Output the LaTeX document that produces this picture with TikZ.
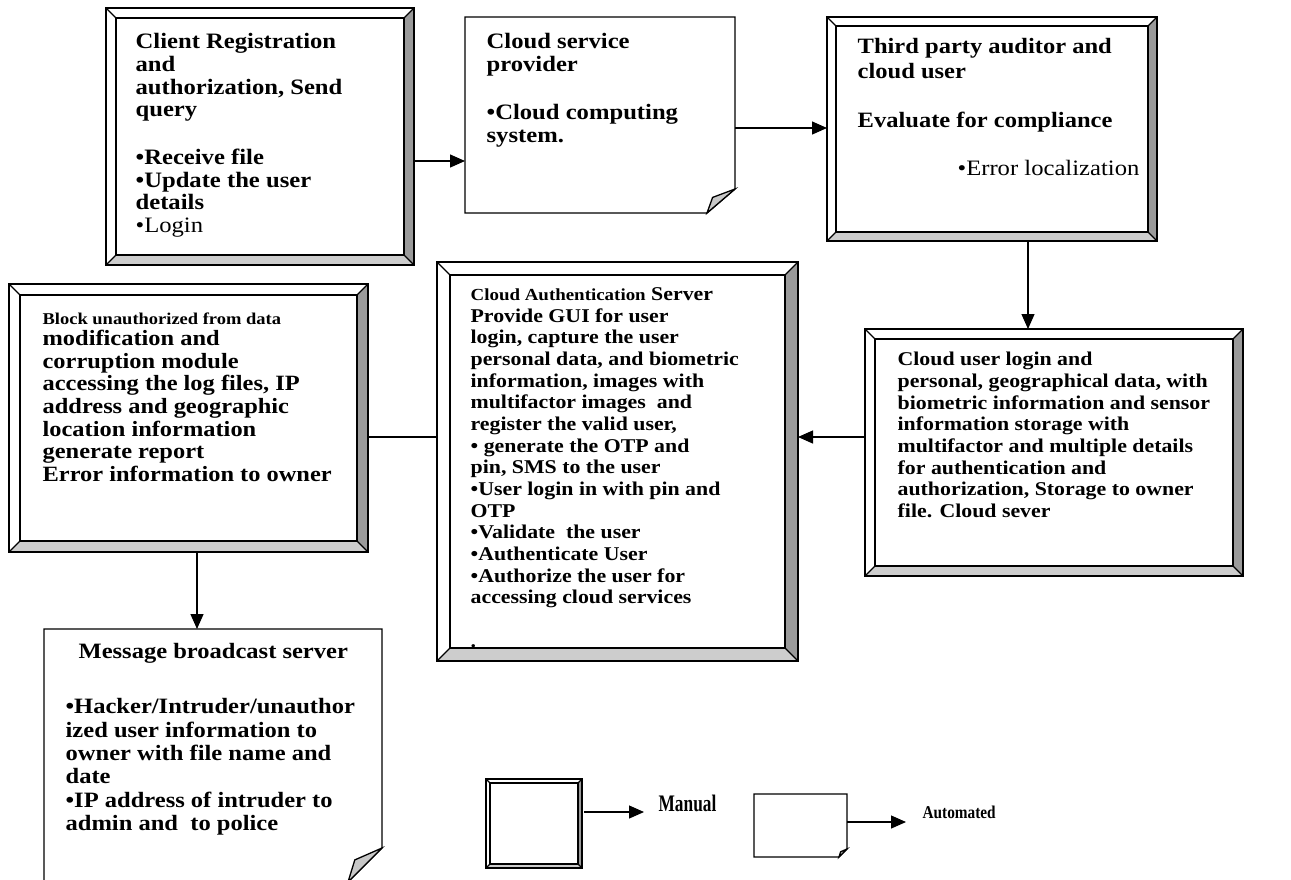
\documentclass[tikz,border=0pt]{standalone}
\usepackage{fontspec}
\setmainfont{Liberation Serif}[FakeStretch=1.12]
\newfontfamily\legendserif{Liberation Serif}
\usetikzlibrary{arrows.meta,calc,fit}
\definecolor{bevdark}{HTML}{9A9A9A}
\definecolor{bevlight}{HTML}{CDCDCD}
\definecolor{foldgray}{HTML}{C8C8C8}

% strut that fixes the height of a first text line
\newcommand\fl{\rule{0pt}{20pt}}
\newcommand\bul{•}

% raised frame with shaded right and bottom bevels
\newcommand\bevelframe[2]{%
  \fill[bevdark] (#1.north east) -- (#1.south east) -- ($(#1.south east)+(-#2,-#2)$) -- ($(#1.north east)+(-#2,#2)$) -- cycle;
  \fill[bevlight] (#1.south west) -- (#1.south east) -- ($(#1.south east)+(-#2,-#2)$) -- ($(#1.south west)+(#2,-#2)$) -- cycle;
  \draw (#1.north west) rectangle (#1.south east);
  \draw ($(#1.north west)+(#2,#2)$) rectangle ($(#1.south east)+(-#2,-#2)$);
  \draw (#1.north west) -- ($(#1.north west)+(#2,#2)$)
        (#1.north east) -- ($(#1.north east)+(-#2,#2)$)
        (#1.south east) -- ($(#1.south east)+(-#2,-#2)$)
        (#1.south west) -- ($(#1.south west)+(#2,-#2)$);
}

% sheet of paper with a folded lower right corner
\newcommand\notepaper[3]{%
  \draw[fill=white] (#1.north west) -- (#1.north east) -- ($(#1.south east)+(0,-#3)$)
     -- ($(#1.south east)+(-#2,0)$) -- (#1.south west) -- cycle;
  \draw[fill=foldgray] ($(#1.south east)+(0,-#3)$) -- ($(#1.south east)+(-0.8*#2,-0.65*#3)$)
     -- ($(#1.south east)+(-#2,0)$) -- cycle;
}

\begin{document}
\begin{tikzpicture}[x=1pt,y=-1pt,line width=1.3pt,
  frame/.style={inner sep=0pt,outer sep=0pt,draw=none},
  txt/.style={anchor=north west,inner sep=0pt,align=left},
  arr/.style={-{Triangle[length=15pt,width=13pt]},line width=1.3pt}]
\useasboundingbox (0,0) rectangle (1291,879);
\clip (0,0) rectangle (1291,879);

% ---- frames ----
\node[frame,fit={(106,8) (414,265)}] (b1) {};
\node[frame,fit={(465,17) (735,213)}] (b2) {};
\node[frame,fit={(827,17) (1157,241)}] (b3) {};
\node[frame,fit={(865,329) (1243,576)}] (b4) {};
\node[frame,fit={(437,262) (798,661)}] (b5) {};
\node[frame,fit={(9,284) (368,552)}] (b6) {};
\node[frame,fit={(44,629) (382,882)}] (b7) {};
\node[frame,fit={(486,779) (582,868)}] (lm) {};
\node[frame,fit={(754,794) (847,857)}] (la) {};

\bevelframe{b1}{10}
\notepaper{b2}{28}{24}
\bevelframe{b3}{9}
\bevelframe{b4}{10}
\bevelframe{b5}{13}
\bevelframe{b6}{11}
\notepaper{b7}{34}{34}
\bevelframe{lm}{4}
\notepaper{la}{8}{8}

% ---- texts ----
\node[txt,font=\fontsize{22}{22.7}\selectfont\bfseries] (t1) at (135,28)
  {\fl Client Registration\\ and\\ authorization, Send\\ query\\[25pt]
   \bul Receive file\\ \bul Update the user\\ details\\ {\mdseries\bul Login}};

\node[txt,font=\fontsize{22}{22.5}\selectfont\bfseries] (t2) at (486,28)
  {\fl Cloud service\\ provider\\[26pt] \bul Cloud computing\\ system.};

\node[txt,font=\fontsize{21.9}{25}\selectfont\bfseries] (t3) at (857,33)
  {\fl Third party auditor and\\ cloud user\\[24pt] Evaluate for compliance};
\node[txt,font=\fontsize{22}{25}\selectfont] (t3b) at (957,155)
  {\fl \bul Error localization};

\node[txt,font=\fontsize{19.5}{21.7}\selectfont\bfseries] (t4) at (897,345)
  {\fl Cloud user login and\\ personal, geographical data, with\\
   biometric information and sensor\\ information storage with\\
   multifactor and multiple details\\ for authentication and\\
   authorization, Storage to owner\\ file. Cloud sever};

\node[txt,font=\fontsize{19.5}{21.65}\selectfont\bfseries] (t5) at (470,280)
  {\fl{\fontsize{16.9}{21.65}\selectfont Cloud Authentication} Server\\
   Provide GUI for user\\ login, capture the user\\
   personal data, and biometric\\ information, images with\\
   multifactor images~~and\\ register the valid user,\\
   \bul~generate the OTP and\\ pin, SMS to the user\\
   \bul User login in with pin and\\ OTP\\ \bul Validate~~the user\\
   \bul Authenticate User\\ \bul Authorize the user for\\ accessing cloud services\\[21.65pt] .};

\node[txt,font=\fontsize{16.5}{20}\selectfont\bfseries] (t6a) at (42,304)
  {\fl Block unauthorized from data};
\node[txt,font=\fontsize{21.8}{22.6}\selectfont\bfseries] (t6) at (42,325)
  {\fl modification and\\ corruption module\\ accessing the log files, IP\\
   address and geographic\\ location information\\ generate report\\
   Error information to owner};

\node[txt,font=\fontsize{21.9}{23.4}\selectfont\bfseries] (t7a) at (78,638)
  {\fl Message broadcast server};
\node[txt,font=\fontsize{21.9}{23.4}\selectfont\bfseries] (t7) at (65,693)
  {\fl \bul Hacker/Intruder/unauthor\\ ized user information to\\
   owner with file name and\\ date\\ \bul IP address of intruder to\\ admin and~~to police};

\node[anchor=base west,inner sep=0pt] (man) at (658,811)
  {\legendserif\fontsize{23.7}{26}\selectfont\bfseries\scalebox{0.73}[1]{Manual}};
\node[anchor=base west,inner sep=0pt] (aut) at (922,818)
  {\legendserif\fontsize{18}{22}\selectfont\bfseries\scalebox{0.85}[1]{Automated}};

% ---- connectors ----
\coordinate (a1) at ([yshift=-24.5pt]b1.east);
\draw[arr] (a1) -- (a1 -| b2.west);
\coordinate (a2) at ([yshift=-13pt]b2.east);
\draw[arr] (a2) -- (a2 -| b3.west);
\coordinate (a3) at ([xshift=36pt]b3.south);
\draw[arr] (a3) -- (a3 |- b4.north);
\coordinate (a4) at ([yshift=15.5pt]b4.west);
\draw[arr] (a4) -- (a4 -| b5.east);
\coordinate (a5) at ([yshift=24.5pt]b5.west);
\draw (a5) -- (a5 -| b6.east);
\coordinate (a6) at ([xshift=8.5pt]b6.south);
\draw[arr] (a6) -- (a6 |- b7.north);

\coordinate (l1) at ([yshift=11.5pt]lm.east);
\coordinate (l1e) at (l1 -| man.west);
\draw[arr] ([xshift=2pt]l1) -- ([xshift=-14pt]l1e);
\coordinate (l2) at ([yshift=3.5pt]la.east);
\coordinate (l2e) at (l2 -| aut.west);
\draw[arr] (l2) -- ([xshift=-16pt]l2e);
\end{tikzpicture}
\end{document}
